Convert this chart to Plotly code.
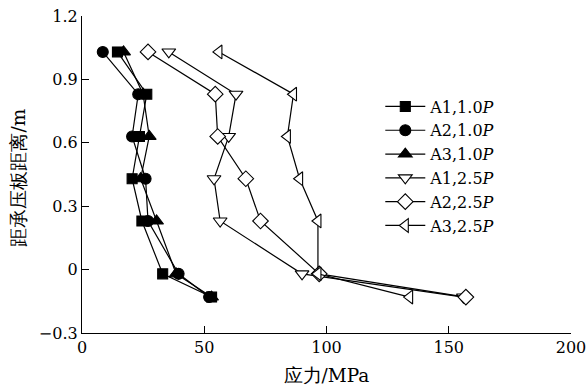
import plotly.graph_objects as go

depth = [1.03, 0.83, 0.63, 0.43, 0.23, -0.02, -0.13]
a1_10 = [14.5, 26.5, 23.5, 20.5, 24.5, 33.0, 53.0]
a2_10 = [8.5, 23.0, 20.5, 26.0, 27.0, 39.5, 52.0]
a3_10 = [17.0, 25.0, 27.5, 24.0, 30.5, 38.5, 53.0]
a1_25 = [35.5, 63.0, 60.0, 54.0, 56.5, 90.0, 156.0]
a2_25 = [27.0, 54.5, 55.5, 67.0, 73.0, 97.0, 157.0]
a3_25 = [56.0, 86.5, 84.0, 89.0, 96.5, 96.5, 134.0]

names = ["A1,1.0<i>P</i>", "A2,1.0<i>P</i>", "A3,1.0<i>P</i>",
         "A1,2.5<i>P</i>", "A2,2.5<i>P</i>", "A3,2.5<i>P</i>"]
series = [a1_10, a2_10, a3_10, a1_25, a2_25, a3_25]
symbols = ["square", "circle", "triangle-up", "triangle-down", "diamond", "triangle-left"]
fills = ["black", "black", "black", "white", "white", "white"]
sizes = [10, 11, 12, 12, 12, 12]

FONT = "DejaVu Serif"

fig = go.Figure()
for nm, xs, sym, fc, sz in zip(names, series, symbols, fills, sizes):
    fig.add_trace(go.Scatter(
        x=xs, y=depth, mode="lines+markers", name=nm,
        line=dict(color="black", width=1.2),
        marker=dict(symbol=sym, size=sz, color=fc, line=dict(color="black", width=1.1)),
    ))

fig.update_layout(
    width=586, height=387,
    margin=dict(l=82, r=15, t=16, b=54),
    paper_bgcolor="white", plot_bgcolor="white",
    font=dict(family=FONT, size=17, color="black"),
    showlegend=True,
    legend=dict(x=0.61, y=0.768, xanchor="left", yanchor="top",
                bgcolor="rgba(0,0,0,0)", font=dict(family=FONT, size=16),
                tracegroupgap=0, itemwidth=40),
    annotations=[dict(
        text="距承压板距离/m", textangle=-90, showarrow=False,
        xref="paper", yref="paper", x=-0.129, y=0.49,
        xanchor="center", yanchor="middle",
        font=dict(family=FONT, size=18.5, color="black"),
    )],
)
fig.update_xaxes(
    range=[0, 200], tickvals=[0, 50, 100, 150, 200], ticktext=["0", "50", "100", "150", "200"],
    tickfont=dict(family=FONT, size=16), ticklabeloverflow="allow",
    showgrid=False, zeroline=False, showline=True, linecolor="black", linewidth=1.2,
    ticks="inside", ticklen=7, tickcolor="black", tickwidth=1.2,
    title=dict(text="应力/MPa", standoff=12, font=dict(family=FONT, size=18.5)),
    automargin=False,
)
fig.update_yaxes(
    range=[-0.3, 1.2], tickvals=[-0.3, 0, 0.3, 0.6, 0.9, 1.2],
    ticktext=["\u22120.3", "0", "0.3", "0.6", "0.9", "1.2"],
    tickfont=dict(family=FONT, size=16), ticklabeloverflow="allow",
    showgrid=False, zeroline=False, showline=True, linecolor="black", linewidth=1.2,
    ticks="inside", ticklen=7, tickcolor="black", tickwidth=1.2,
    automargin=False,
)

fig.write_html("out.html")
